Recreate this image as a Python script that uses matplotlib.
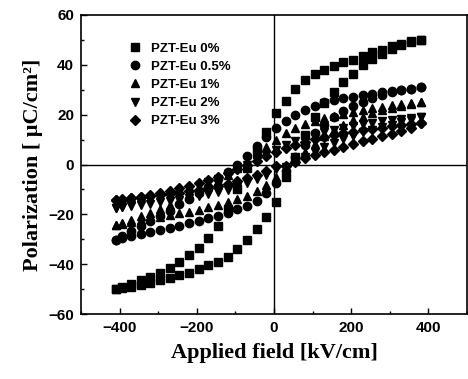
import matplotlib
matplotlib.use("Agg")
import matplotlib.pyplot as plt
from matplotlib.ticker import MultipleLocator

# applied field sweep (kV/cm), upper branch goes +max -> -max
field = [380, 355, 330, 305, 280, 255, 230, 205, 180, 155, 130, 105, 80, 55, 30, 5,
         -20, -45, -70, -95, -120, -145, -170, -195, -220, -245, -270, -295, -320,
         -345, -370, -395, -410]
field_up = field[::-1]

labels = ["PZT-Eu 0%", "PZT-Eu 0.5%", "PZT-Eu 1%", "PZT-Eu 2%", "PZT-Eu 3%"]
markers = ["s", "o", "^", "v", "D"]

# polarization (uC/cm2) on the descending branch (same order as field)
p0_down = [50, 49.5, 48.5, 47.5, 46, 45, 43.5, 42, 41, 39.5, 38, 36.5, 34, 30.5, 25.5, 20.5,
           13, 5.5, -1.5, -10, -18, -24.5, -29.5, -33.5, -36.5, -39, -41.5, -43.5, -45,
           -46.5, -48, -49.3, -50]
p05_down = [31, 30.5, 30, 29.5, 29, 28.3, 27.7, 27, 26.5, 26, 25, 23.5, 22, 20, 17.5, 14.5,
            11, 7.5, 3.5, 0, -3, -6, -9, -11.5, -14, -16, -18.5, -20.5, -22.5, -24.5,
            -26.5, -28.5, -30.3]
p1_down = [25.2, 24.7, 24.2, 23.7, 23.1, 22.5, 21.8, 21.1, 20.4, 19.6, 18.7, 17.6, 16.3,
           14.6, 12.5, 10, 7.2, 4.2, 1.2, -1.6, -4.2, -6.6, -8.8, -10.8, -12.7, -14.5,
           -16.2, -17.8, -19.3, -20.8, -22.2, -23.5, -24.3]
p2_down = [19.2, 18.8, 18.3, 17.8, 17.3, 16.7, 16.1, 15.4, 14.7, 13.9, 13, 12, 10.8, 9.4,
           7.8, 6, 4, 1.9, -0.2, -2.2, -4, -5.7, -7.2, -8.6, -9.9, -11.1, -12.3, -13.4,
           -14.4, -15.4, -16.3, -17.1, -17.5]
p3_down = [16.5, 16.1, 15.7, 15.3, 14.8, 14.3, 13.8, 13.2, 12.6, 11.9, 11.1, 10.2, 9.2, 8,
           6.6, 5, 3.3, 1.5, -0.3, -2, -3.5, -4.9, -6.2, -7.4, -8.5, -9.5, -10.5, -11.4,
           -12.2, -13, -13.6, -14.1, -14.3]

# ascending branch (same order as field_up)
p0_up = [-50, -49.6, -49, -48.3, -47.5, -46.5, -45.5, -44.5, -43.5, -42, -40.5, -39, -37,
         -34, -30.5, -26, -21, -15, -5, 3, 12, 19, 24.5, 29, 33, 36.5, 40, 42.5, 44.5,
         46.5, 48, 49.3, 50]
p05_up = [-30.3, -29.6, -28.8, -28, -27, -26.2, -25.3, -24.5, -23.5, -22.5, -21.5, -20.5,
          -19.3, -18, -16.5, -14.5, -11.5, -7.5, -2.5, 3, 8, 12.5, 16, 19, 21.5, 23.5, 25,
          26.5, 27.8, 29, 29.8, 30.5, 31]
p1_up = [-24.3, -23.8, -23.1, -22.4, -21.7, -21, -20.3, -19.6, -18.9, -18.1, -17.2, -16.3,
         -15.2, -14, -12.5, -10.6, -8.2, -5.2, -1.8, 1.8, 5.2, 8.4, 11.3, 13.8, 15.9, 17.7,
         19.2, 20.5, 21.7, 22.7, 23.6, 24.4, 25.2]
p2_up = [-17.5, -17.2, -16.7, -16.2, -15.7, -15.2, -14.7, -14.1, -13.5, -12.8, -12, -11.1,
         -10.1, -9, -7.6, -6, -4.1, -2, -1, 1, 3.2, 5.2, 7, 8.7, 10.2, 11.6, 12.9, 14, 15,
         16, 17, 18, 19.2]
p3_up = [-14.3, -14, -13.6, -13.2, -12.8, -12.3, -11.8, -11.3, -10.7, -10.1, -9.4, -8.6,
         -7.7, -6.7, -5.5, -4.1, -2.5, -0.7, -0.5, 1, 2.5, 3.8, 5, 6, 7.2, 8.3, 9.4, 10.4,
         11.3, 12.3, 13.3, 14.7, 16.5]

down = [p0_down, p05_down, p1_down, p2_down, p3_down]
up = [p0_up, p05_up, p1_up, p2_up, p3_up]

sans = ["Liberation Sans", "DejaVu Sans"]
serif = ["Liberation Serif", "DejaVu Serif"]

fig = plt.figure(figsize=(4.68, 3.79), dpi=100)
ax = fig.add_axes([81 / 468, 1 - 314 / 379, 386 / 468, 299 / 379])

ax.axhline(0, color="black", lw=1.0, zorder=1)
ax.axvline(0, color="black", lw=1.0, zorder=1)

for i in range(len(labels)):
    ax.plot(field + field_up, down[i] + up[i], linestyle="none", marker=markers[i],
            ms=6 if markers[i] != "D" else 5.3, color="black", mec="black",
            label=labels[i], zorder=2)

ax.set_xlim(-500, 500)
ax.set_ylim(-60, 60)
ax.xaxis.set_major_locator(MultipleLocator(200))
ax.xaxis.set_minor_locator(MultipleLocator(100))
ax.yaxis.set_major_locator(MultipleLocator(20))
ax.yaxis.set_minor_locator(MultipleLocator(10))
ax.tick_params(which="both", direction="in", top=False, right=False, width=1)
ax.tick_params(which="major", length=4, pad=5)
ax.tick_params(which="minor", length=2.5)
for lab in ax.get_xticklabels() + ax.get_yticklabels():
    lab.set_family(sans)
    lab.set_fontweight("bold")
    lab.set_fontsize(11)
for sp in ax.spines.values():
    sp.set_linewidth(1.2)

ax.set_xlabel("Applied field [kV/cm]", family=serif, fontweight="bold", fontsize=16, labelpad=6)
ax.set_ylabel("Polarization [ \u03bcC/cm\u00b2]", family=serif, fontweight="bold", fontsize=16,
              labelpad=4)

leg = ax.legend(loc="upper left", bbox_to_anchor=(0.11, 0.93), frameon=False,
                handlelength=0.8, handletextpad=0.8, labelspacing=0.45, borderpad=0,
                prop={"family": sans, "weight": "bold", "size": 9.5})

fig.savefig("out.png", dpi=100)
